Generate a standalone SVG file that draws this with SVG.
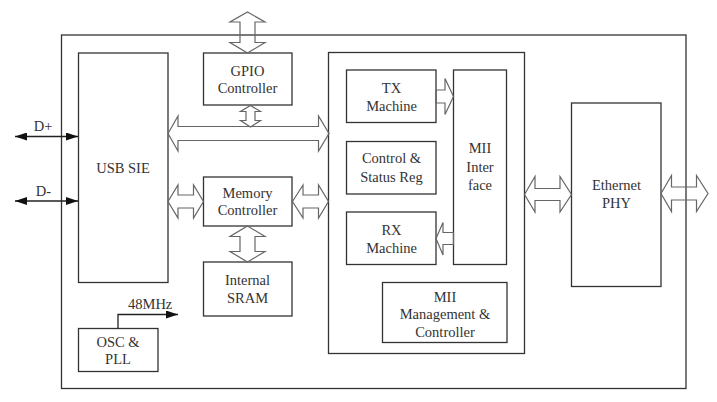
<svg xmlns="http://www.w3.org/2000/svg" width="717" height="402" viewBox="0 0 717 402">
<defs>
<style>
.box{fill:none;stroke:#333;stroke-width:1.3}
.ha{fill:none;stroke:#666;stroke-width:1.2;stroke-linejoin:miter}
.ln{fill:none;stroke:#222;stroke-width:1.3}
.t{font-family:"Liberation Serif","Times New Roman",serif;font-size:14.5px;fill:#333;text-anchor:middle}
.ts{font-family:"Liberation Serif","Times New Roman",serif;font-size:14.5px;fill:#333}
</style>
<marker id="ah" viewBox="0 0 12 8" refX="12" refY="4" markerWidth="12" markerHeight="8" markerUnits="userSpaceOnUse" orient="auto-start-reverse">
<path d="M0,0 L12,4 L0,8 Z" fill="#111"/>
</marker>
</defs>
<rect width="717" height="402" fill="#fff"/>
<g id="chip"><rect class="box" x="61.5" y="35" width="624.5" height="353.5"/></g>
<g id="usb_sie"><rect class="box" x="78.5" y="53" width="89.5" height="229.5"/><text class="t" x="123" y="173">USB SIE</text></g>
<g id="gpio"><rect class="box" x="203.5" y="53" width="88.5" height="52"/><text class="t" x="247.5" y="75.5">GPIO</text><text class="t" x="247.5" y="92.5">Controller</text></g>
<g id="memctl"><rect class="box" x="203.5" y="177" width="88.5" height="49"/><text class="t" x="247.5" y="198">Memory</text><text class="t" x="247.5" y="215">Controller</text></g>
<g id="sram"><rect class="box" x="203.5" y="262" width="88.5" height="54"/><text class="t" x="247.5" y="285">Internal</text><text class="t" x="247.5" y="302.5">SRAM</text></g>
<g id="osc"><rect class="box" x="78.5" y="328.5" width="79.5" height="43"/><text class="t" x="118" y="346.5">OSC &amp;</text><text class="t" x="118" y="364">PLL</text></g>
<g id="mac"><rect class="box" x="328.5" y="52.5" width="196" height="301"/></g>
<g id="tx"><rect class="box" x="346.5" y="70" width="89.5" height="52.5"/><text class="t" x="391.5" y="93">TX</text><text class="t" x="391.5" y="110.5">Machine</text></g>
<g id="csr"><rect class="box" x="346.5" y="141.5" width="89.5" height="52.5"/><text class="t" x="391.5" y="163">Control &amp;</text><text class="t" x="391.5" y="181.5">Status Reg</text></g>
<g id="rx"><rect class="box" x="346.5" y="212" width="89.5" height="52.5"/><text class="t" x="391.5" y="235">RX</text><text class="t" x="391.5" y="252.5">Machine</text></g>
<g id="mii"><rect class="box" x="453.5" y="70" width="53" height="194.5"/><text class="t" x="480" y="152.5">MII</text><text class="t" x="480" y="171.5">Inter</text><text class="t" x="480" y="190">face</text></g>
<g id="miim"><rect class="box" x="382.5" y="282.5" width="124.5" height="60"/><text class="t" x="445" y="301.5">MII</text><text class="t" x="445" y="319">Management &amp;</text><text class="t" x="445" y="336.5">Controller</text></g>
<g id="phy"><rect class="box" x="571.5" y="103" width="89.5" height="183.5"/><text class="t" x="616.5" y="190">Ethernet</text><text class="t" x="616.5" y="208">PHY</text></g>
<g id="connectors">
<polygon class="ha" points="247.5,12 265,22 255,22 255,42.5 265,42.5 247.5,53 230,42.5 240,42.5 240,22 230,22"/>
<polygon class="ha" points="250.5,105.5 260.5,111.5 255,111.5 255,120.5 260.5,120.5 250.5,127 240.5,120.5 246,120.5 246,111.5 240.5,111.5"/>
<polygon class="ha" points="168,133.5 178,116 178,126.5 318.5,126.5 318.5,116 329,133.5 318.5,151 318.5,140.5 178,140.5 178,151"/>
<polygon class="ha" points="168,201.5 178,185 178,195 193.5,195 193.5,185 203.5,201.5 193.5,218 193.5,208 178,208 178,218"/>
<polygon class="ha" points="292.5,201.5 303,185 303,195 318.5,195 318.5,185 328.5,201.5 318.5,218 318.5,208 303,208 303,218"/>
<polygon class="ha" points="247.5,226 265,236.5 255,236.5 255,251.5 265,251.5 247.5,262 230,251.5 240,251.5 240,236.5 230,236.5"/>
<polygon class="ha" points="436,90 445,90 445,78.5 453.5,96.5 445,114.5 445,103 436,103"/>
<polygon class="ha" points="453.5,232.5 443,232.5 443,222.5 436,238.5 443,255 443,244.5 453.5,244.5"/>
<polygon class="ha" points="524.5,194.5 535,176.5 535,188.5 560,188.5 560,176.5 571.5,194.5 560,212 560,200.5 535,200.5 535,212"/>
<polygon class="ha" points="661,193.5 671.5,175.5 671.5,187 696.5,187 696.5,175.5 708,193.5 696.5,211.5 696.5,200 671.5,200 671.5,211.5"/>
<line class="ln" x1="15" y1="136.5" x2="78" y2="136.5" marker-start="url(#ah)" marker-end="url(#ah)"/>
<line class="ln" x1="15" y1="201" x2="78" y2="201" marker-start="url(#ah)" marker-end="url(#ah)"/>
<polyline class="ln" points="118,328.5 118,314.5 178,314.5" marker-end="url(#ah)"/>
</g>
<text class="t" x="43" y="131">D+</text>
<text class="t" x="43.5" y="195.5">D-</text>
<text class="ts" x="128" y="308.5">48MHz</text>
</svg>
